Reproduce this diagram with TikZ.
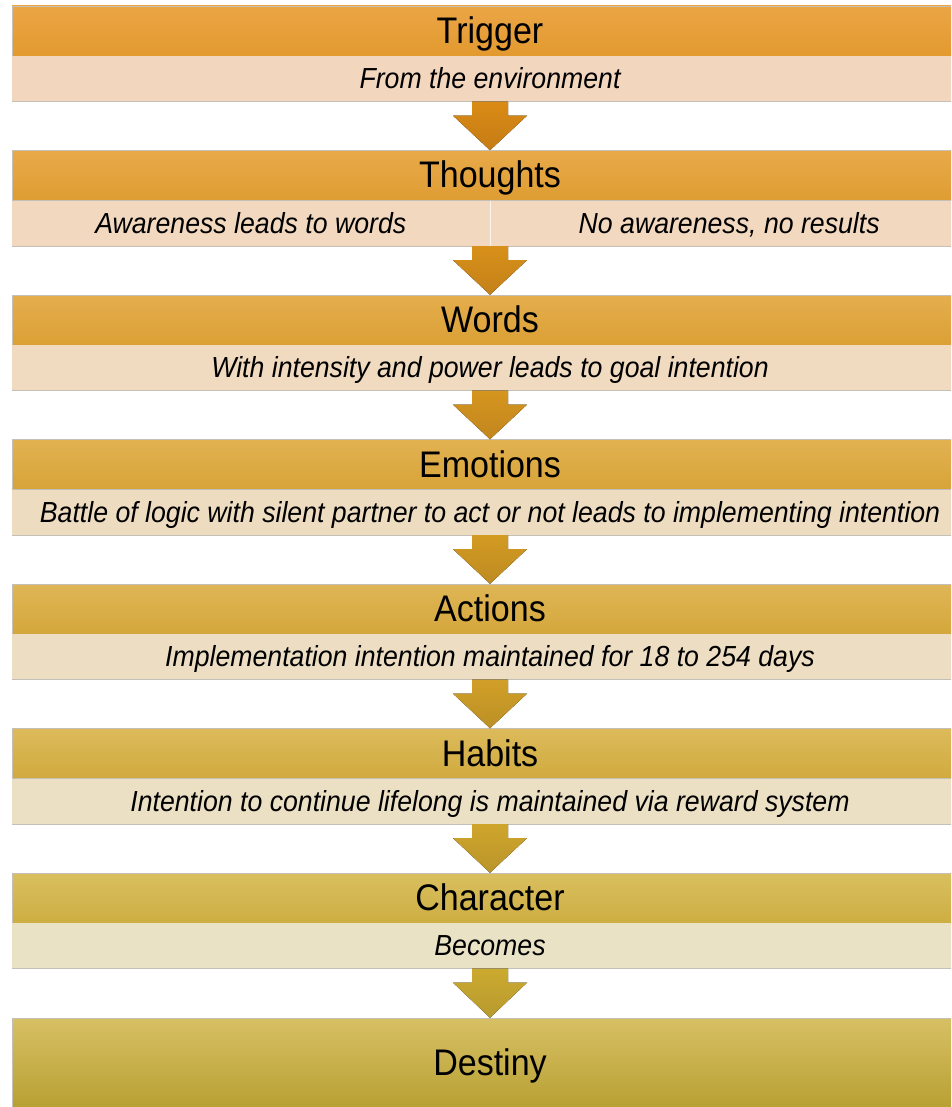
\documentclass[tikz,border=0pt]{standalone}
\usepackage{fontspec}
\setmainfont{Liberation Sans}
\newfontfamily\narrowfont[FakeStretch=0.92]{Liberation Sans}
\usetikzlibrary{positioning,calc}

% colours: top (orange) and bottom (olive) of the chain
\definecolor{hdtopA}{HTML}{EBA545}
\definecolor{hdtopB}{HTML}{D9BF5F}
\definecolor{hdbotA}{HTML}{E29A2F}
\definecolor{hdbotB}{HTML}{CDAE42}
\definecolor{subA}{HTML}{F3D6BE}
\definecolor{subB}{HTML}{EAE2C5}
\definecolor{arrtopA}{HTML}{DA8B15}
\definecolor{arrtopB}{HTML}{CCAA30}
\definecolor{arrbotA}{HTML}{C57C15}
\definecolor{arrbotB}{HTML}{B79A2F}
\definecolor{destop}{HTML}{D7C064}
\definecolor{desbot}{HTML}{B8A033}
\definecolor{edge}{HTML}{C4C0B8}

\tikzset{
  hdbox/.style={minimum width=956pt, minimum height=50pt, inner sep=0pt,
    text height=28pt, text depth=3pt,
    draw=edge, line width=0.5pt, font=\narrowfont\fontsize{37}{42}\selectfont},
  subbox/.style={minimum width=956pt, minimum height=45pt, inner sep=0pt,
    text height=23pt, text depth=3pt,
    font=\narrowfont\itshape\fontsize{29}{34}\selectfont},
  halfbox/.style={subbox, minimum width=478pt},
}

\begin{document}
\begin{tikzpicture}[x=1pt, y=1pt]
  \useasboundingbox (0,0) rectangle (951,-1107);
  \clip (0,0) rectangle (951,-1107);

  % stages: header + band beneath it
  \foreach \i/\hd/\sb in {0/Trigger/From the environment,
      1/Thoughts/{},
      2/Words/With intensity and power leads to goal intention,
      3/Emotions/Battle of logic with silent partner to act or not leads to implementing intention,
      4/Actions/Implementation intention maintained for 18 to 254 days,
      5/Habits/Intention to continue lifelong is maintained via reward system,
      6/Character/Becomes} {
    \pgfmathtruncatemacro{\p}{100*\i/6}
    \colorlet{ctop}{hdtopB!\p!hdtopA}
    \colorlet{cbot}{hdbotB!\p!hdbotA}
    \colorlet{csub}{subB!\p!subA}
    \node[hdbox, top color=ctop, bottom color=cbot] (h\i) at (490,{-31-144.5*\i}) {\hd};
    \node[subbox, fill=csub, below=0pt of h\i] (s\i) {\sb};
    \draw[edge, line width=0.8pt] (s\i.south west) -- (s\i.south east);
  }

  % last stage
  \node[hdbox, minimum height=90pt, top color=destop, bottom color=desbot]
    (h7) at (490,-1063) {Destiny};

  % split band of the thoughts stage
  \node[halfbox, anchor=east] (tl) at (s1.center) {Awareness leads to words};
  \node[halfbox, anchor=west] (tr) at (s1.center) {No awareness, no results};
  \draw[white!70!subA, line width=1pt] (tl.north east) -- (tl.south east);

  % block arrows between stages
  \foreach \i in {0,...,6} {
    \pgfmathtruncatemacro{\j}{\i+1}
    \pgfmathtruncatemacro{\p}{100*\i/6}
    \colorlet{atop}{arrtopB!\p!arrtopA}
    \colorlet{abot}{arrbotB!\p!arrbotA}
    \fill[top color=atop, bottom color=abot]
      ($(s\i.south)+(-18,0)$) -- ($(s\i.south)+(18,0)$) -- ($(s\i.south)+(18,-14)$)
      -- ($(s\i.south)+(37,-14)$) -- (h\j.north) -- ($(s\i.south)+(-37,-14)$)
      -- ($(s\i.south)+(-18,-14)$) -- cycle;
  }
\end{tikzpicture}
\end{document}
